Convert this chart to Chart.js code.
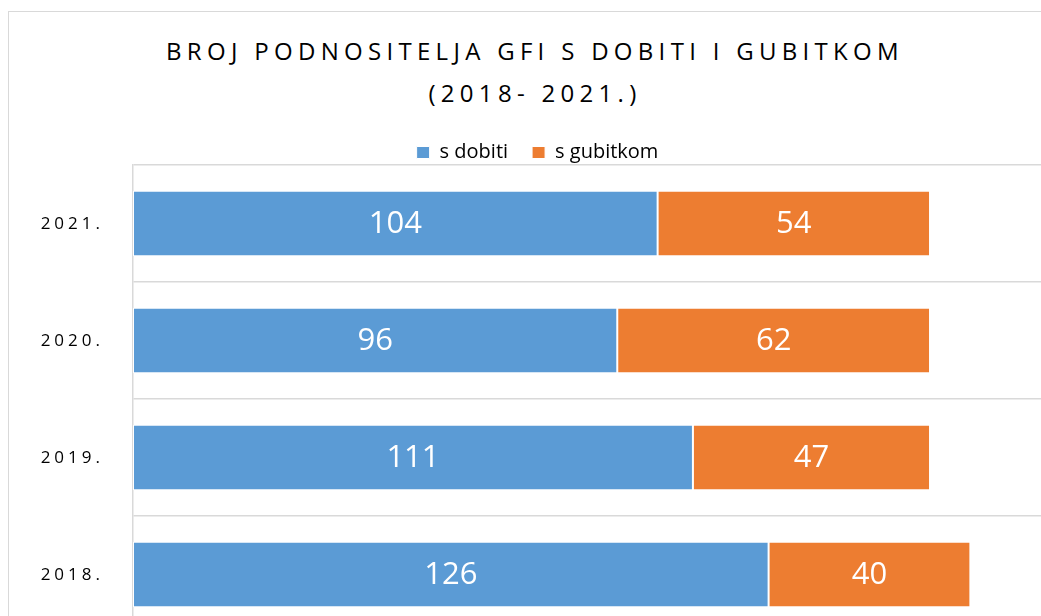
<!DOCTYPE html>
<html>
  <head>
    <title>Broj podnositelja GFI</title>
    <style>
      body {
        margin: 0;
        width: 1041px;
        height: 616px;
        overflow: hidden;
        background: #fff;
        font-family: "Open Sans", sans-serif;
      }
      #frame {
        position: absolute;
        left: 8px;
        top: 11px;
        width: 1100px;
        height: 700px;
        border: 1px solid #d9d9d9;
      }
      #title {
        position: absolute;
        left: 0;
        top: 30px;
        width: 1070px;
        text-align: center;
        font-size: 24px;
        line-height: 42px;
        letter-spacing: 5.3px;
        color: #000;
      }
      #wrap {
        position: absolute;
        left: 0;
        top: 0;
        width: 1041px;
        height: 650px;
      }
    </style>
    <script src="https://cdn.jsdelivr.net/npm/chart.js"></script>
  </head>
  <body>
    <div id="frame"></div>
    <div id="title">BROJ PODNOSITELJA GFI S DOBITI I GUBITKOM<br />(2018- 2021.)</div>
    <div id="wrap"><canvas id="chart"></canvas></div>

    <script>
      var years = ["2021.", "2020.", "2019.", "2018."];
      var sDobiti = [104, 96, 111, 126];
      var sGubitkom = [54, 62, 47, 40];

      // values written inside each bar segment
      var barLabels = {
        id: "barLabels",
        afterDatasetsDraw: function (chart) {
          var ctx = chart.ctx;
          ctx.save();
          ctx.font = "31px 'Open Sans'";
          ctx.fillStyle = "#fff";
          ctx.textAlign = "center";
          ctx.textBaseline = "middle";
          chart.data.datasets.forEach(function (ds, i) {
            chart.getDatasetMeta(i).data.forEach(function (bar, j) {
              var p = bar.getProps(["x", "y", "base"], true);
              ctx.fillText(ds.data[j], (p.x + p.base) / 2, p.y + 1);
            });
          });
          ctx.restore();
        },
      };

      // year labels on the left, spaced out like the original
      var yearLabels = {
        id: "yearLabels",
        afterDraw: function (chart) {
          var ctx = chart.ctx;
          var y = chart.scales.y;
          ctx.save();
          ctx.font = "17px 'Open Sans'";
          ctx.letterSpacing = "4px";
          ctx.fillStyle = "#000";
          ctx.textAlign = "right";
          ctx.textBaseline = "middle";
          years.forEach(function (label, i) {
            ctx.fillText(label, 104, y.getPixelForValue(i) + 1);
          });
          ctx.restore();
        },
      };

      var ctx = document.getElementById("chart").getContext("2d");
      var chart = new Chart(ctx, {
        type: "bar",
        data: {
          labels: years,
          datasets: [
            {
              label: "s dobiti",
              data: sDobiti,
              backgroundColor: "#5b9bd5",
              borderColor: "#fff",
              borderWidth: 1,
              borderSkipped: false,
            },
            {
              label: "s gubitkom",
              data: sGubitkom,
              backgroundColor: "#ed7d31",
              borderColor: "#fff",
              borderWidth: 1,
              borderSkipped: false,
            },
          ],
        },
        options: {
          indexAxis: "y",
          responsive: true,
          maintainAspectRatio: false,
          animation: false,
          layout: {
            padding: { top: 118.5, left: 34, right: 0, bottom: 17 },
          },
          categoryPercentage: 1,
          barPercentage: 0.56,
          plugins: {
            title: { display: false },
            tooltip: { enabled: false },
            legend: {
              position: "top",
              maxHeight: 46.5,
              labels: {
                boxWidth: 13,
                boxHeight: 12,
                padding: 24,
                color: "#000",
                font: { family: "'Open Sans'", size: 20 },
              },
            },
          },
          scales: {
            x: {
              display: false,
              stacked: true,
              min: 0,
              max: 180,
            },
            y: {
              stacked: true,
              afterFit: function (scale) {
                scale.width = 99;
              },
              ticks: { display: false },
              grid: {
                color: "#d9d9d9",
                lineWidth: 1.5,
                drawTicks: false,
              },
              border: { display: true, color: "#d9d9d9", width: 1.5 },
            },
          },
        },
        plugins: [barLabels, yearLabels],
      });
    </script>
  </body>
</html>
